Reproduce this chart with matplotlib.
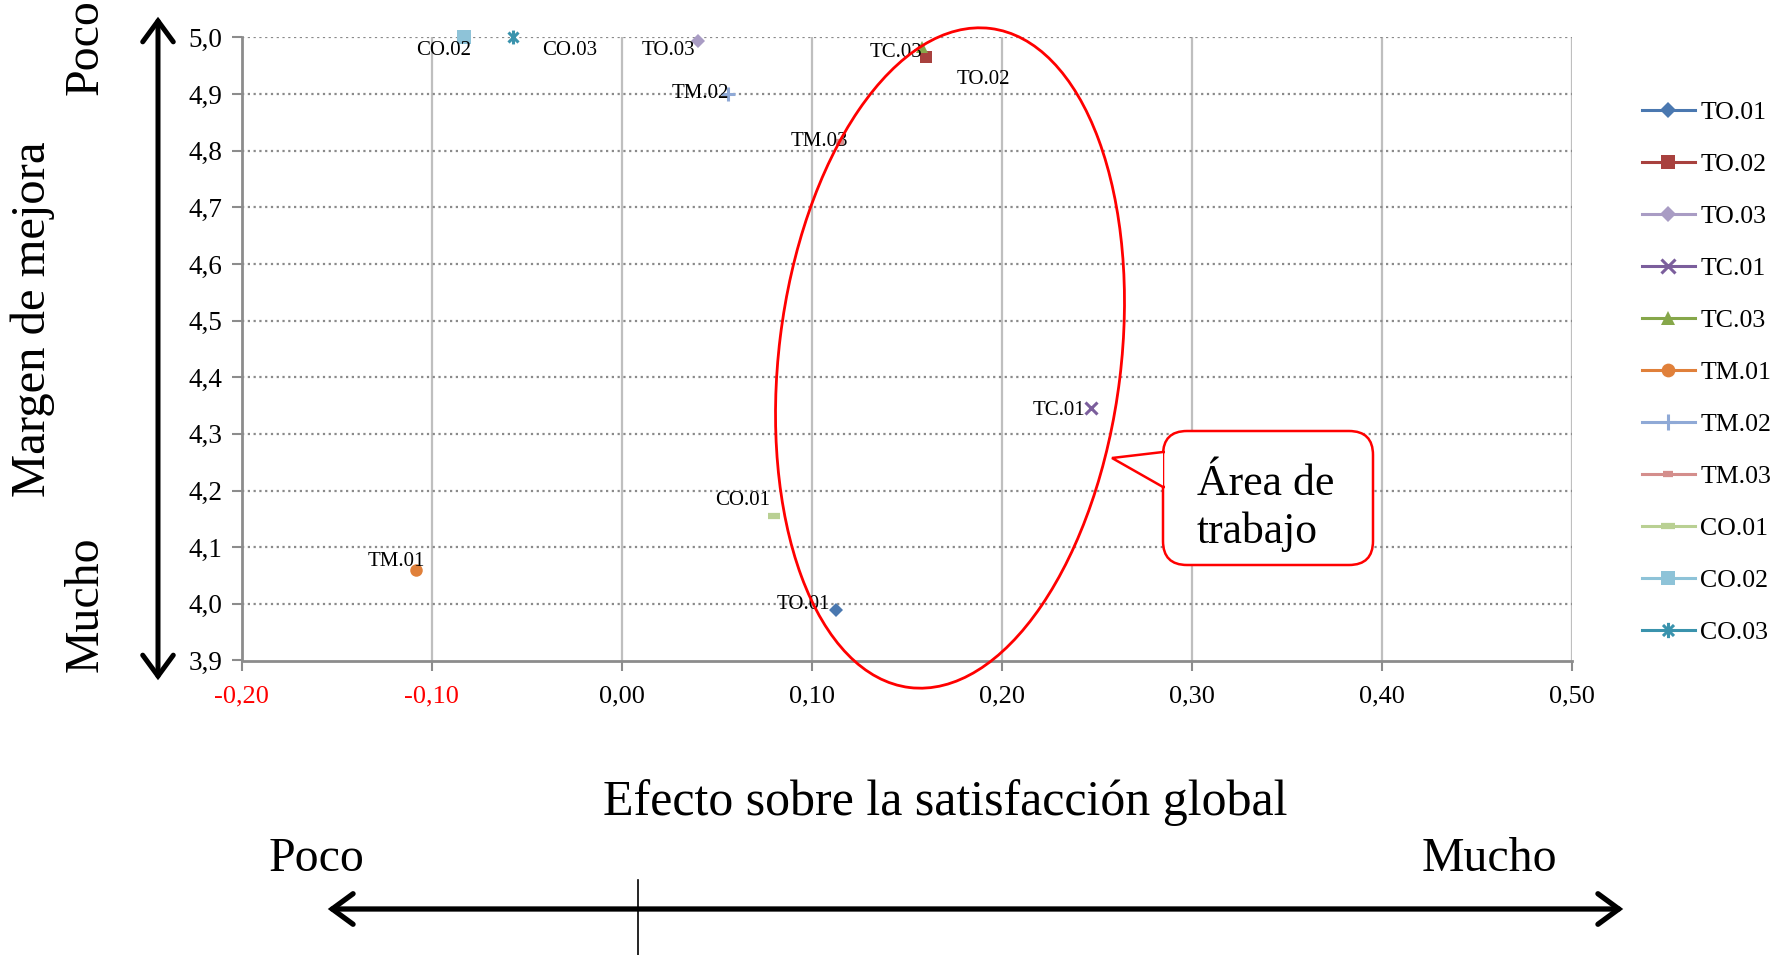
import numpy as np
import matplotlib
matplotlib.use("Agg")
import matplotlib.pyplot as plt
from matplotlib.patches import Ellipse, FancyBboxPatch, Polygon, FancyArrowPatch
from matplotlib.lines import Line2D
from matplotlib.path import Path
from matplotlib.transforms import IdentityTransform
from matplotlib.ticker import FuncFormatter

# ---- data -------------------------------------------------------------
items = ["TO.01", "TO.02", "TO.03", "TC.01", "TC.03", "TM.01",
         "TM.02", "TM.03", "CO.01", "CO.02", "CO.03"]
effect = [0.113, 0.160, 0.040, 0.247, 0.158, -0.108,
          0.056, 0.115, 0.080, -0.083, -0.057]
margin = [3.990, 4.965, 4.994, 4.345, 4.983, 4.060,
          4.900, 4.816, 4.155, 5.000, 5.000]

x_ticks = [-0.20, -0.10, 0.00, 0.10, 0.20, 0.30, 0.40, 0.50]
y_ticks = [3.9, 4.0, 4.1, 4.2, 4.3, 4.4, 4.5, 4.6, 4.7, 4.8, 4.9, 5.0]

# ---- styles -----------------------------------------------------------
asterisk = Path([(0, -1), (0, 1), (-0.72, -0.72), (0.72, 0.72),
                 (-0.72, 0.72), (0.72, -0.72)],
                [Path.MOVETO, Path.LINETO, Path.MOVETO, Path.LINETO,
                 Path.MOVETO, Path.LINETO])

styles = {
    "TO.01": dict(color="#4a78b0", marker="D", ms=7.5, mew=0),
    "TO.02": dict(color="#a8413e", marker="s", ms=9, mew=0),
    "TO.03": dict(color="#a99cc4", marker="D", ms=7.5, mew=0),
    "TC.01": dict(color="#7b5e9c", marker="x", ms=9, mew=2.2),
    "TC.03": dict(color="#86a74a", marker="^", ms=9, mew=0),
    "TM.01": dict(color="#e0803a", marker="o", ms=9, mew=0),
    "TM.02": dict(color="#8fa9d6", marker="+", ms=10, mew=2.2),
    "TM.03": dict(color="#d48e8c", marker="_", ms=6, mew=4.5),
    "CO.01": dict(color="#b9d093", marker="_", ms=9, mew=4.5),
    "CO.02": dict(color="#8ec3d8", marker="s", ms=9.5, mew=0),
    "CO.03": dict(color="#3a93ad", marker=asterisk, ms=10, mew=2.2),
}

# label offsets in pixels (x to the right, y upward) from each point
label_offsets = {
    "TO.01": (-33, 5), "TO.02": (58, -22), "TO.03": (-29, -10),
    "TC.01": (-32, -2), "TC.03": (-26, -6), "TM.01": (-20, 8),
    "TM.02": (-28, 0), "TM.03": (-21, 0), "CO.01": (-31, 16),
    "CO.02": (-20, -13), "CO.03": (56, -13),
}

SERIF = ["Liberation Serif", "DejaVu Serif"]
plt.rcParams["font.family"] = SERIF

W, H, DPI = 1786, 955, 100
fig = plt.figure(figsize=(W / DPI, H / DPI), dpi=DPI)
ax = fig.add_axes([241.5 / W, 1 - 660.5 / H, (1572 - 241.5) / W, (660.5 - 37.3) / H])

ax.set_xlim(-0.2, 0.5)
ax.set_ylim(3.9, 5.0)
ax.set_xticks(x_ticks)
ax.set_yticks(y_ticks)
ax.xaxis.set_major_formatter(FuncFormatter(lambda v, p: f"{v:.2f}".replace(".", ",")))
ax.yaxis.set_major_formatter(FuncFormatter(lambda v, p: f"{v:.1f}".replace(".", ",")))

# grid: solid vertical, dotted horizontal
for xv in x_ticks[1:]:
    ax.axvline(xv, color="#bfbfbf", lw=1.6, zorder=0)
for yv in y_ticks[1:]:
    ax.axhline(yv, color="#8a8a8a", lw=1.6, ls=(0, (1, 1.6)), zorder=0)

for side in ("top", "right"):
    ax.spines[side].set_visible(False)
for side in ("left", "bottom"):
    ax.spines[side].set_color("#8c8c8c")
    ax.spines[side].set_linewidth(2.0)

ax.tick_params(axis="both", direction="out", color="#8c8c8c", width=1.5, length=7)
ax.tick_params(axis="y", labelsize=19.5, pad=7)
ax.tick_params(axis="x", labelsize=19, pad=11)
for lbl, v in zip(ax.get_xticklabels(), x_ticks):
    lbl.set_color("red" if v < 0 else "black")

# points and their labels
handles = []
for name, xv, yv in zip(items, effect, margin):
    st = styles[name]
    ax.plot([xv], [yv], linestyle="none", marker=st["marker"], ms=st["ms"],
            color=st["color"], mec=st["color"], mew=st["mew"], zorder=3,
            clip_on=False)
    dx, dy = label_offsets[name]
    ax.annotate(name, (xv, yv), xytext=(dx, dy), textcoords="offset pixels",
                ha="center", va="center", fontsize=15, color="black", zorder=4)
    handles.append(Line2D([0], [0], color=st["color"], lw=2.2, marker=st["marker"],
                          ms=st["ms"] * 1.1, mec=st["color"], mew=st["mew"], label=name))

fig.legend(handles=handles, loc="upper left", bbox_to_anchor=(1642 / W, 1 - 101 / H),
           frameon=False, borderpad=0, borderaxespad=0, fontsize=18.6,
           handlelength=2.05, handletextpad=0.2, labelspacing=1.12)

# ---- annotations drawn in pixel coordinates ---------------------------
px = IdentityTransform()

def ypix(y_img):
    return H - y_img

# work area ellipse
fig.patches.append(Ellipse((950, ypix(358)), 664, 342, angle=83.0,
                           transform=px, fill=False, ec="red", lw=2.0, zorder=10,
                           figure=fig))

# callout box with pointer
bx0, by0, bx1, by1 = 1163, ypix(565), 1373, ypix(431)
box = FancyBboxPatch((bx0, by0), bx1 - bx0, by1 - by0,
                     boxstyle="round,pad=0,rounding_size=24", transform=px,
                     fc="white", ec="red", lw=1.8, zorder=11, figure=fig)
fig.patches.append(box)
tip = (1112, ypix(458))
b_top = (bx0, ypix(452))
b_bot = (bx0, ypix(487))
fig.patches.append(Polygon([b_top, tip, b_bot], closed=True, transform=px,
                           fc="white", ec="none", zorder=12, figure=fig))
fig.patches.append(Polygon([(bx0 + 2, b_top[1]), b_top, tip, b_bot, (bx0 + 2, b_bot[1])],
                           closed=False, transform=px, fill=False, ec="red", lw=1.8,
                           zorder=13, figure=fig))
fig.text(1197 / W, 1 - 508 / H, "Área de\ntrabajo", ha="left", va="center",
         fontsize=31.5, linespacing=1.22, zorder=14)

# y-axis arrow and labels
fig.patches.append(FancyArrowPatch((158, ypix(683)), (158, ypix(14)), transform=px,
                                   arrowstyle="<->,head_length=15,head_width=11",
                                   mutation_scale=1, lw=3.6, color="black",
                                   joinstyle="miter", figure=fig, zorder=5))
fig.text(33 / W, 1 - 319 / H, "Margen de mejora", rotation=90, ha="center",
         va="center", fontsize=35)
fig.text(86 / W, 1 - 47 / H, "Poco", rotation=90, ha="center", va="center", fontsize=34.5)
fig.text(86 / W, 1 - 604 / H, "Mucho", rotation=90, ha="center", va="center", fontsize=34.5)

# x-axis title, scale words and arrow
fig.text(945 / W, 1 - 803 / H, "Efecto sobre la satisfacción global", ha="center",
         va="center", fontsize=36)
fig.text(317 / W, 1 - 859 / H, "Poco", ha="center", va="center", fontsize=34.5)
fig.text(1489 / W, 1 - 859 / H, "Mucho", ha="center", va="center", fontsize=34.5)
fig.patches.append(FancyArrowPatch((325, ypix(909)), (1626, ypix(909)), transform=px,
                                   arrowstyle="<->,head_length=15,head_width=11",
                                   mutation_scale=1, lw=3.8, color="black",
                                   joinstyle="miter", figure=fig, zorder=5))
fig.lines.append(Line2D([638, 638], [0, ypix(880)], transform=px, color="black",
                        lw=1.2, figure=fig))

fig.savefig("out.png", dpi=DPI)
